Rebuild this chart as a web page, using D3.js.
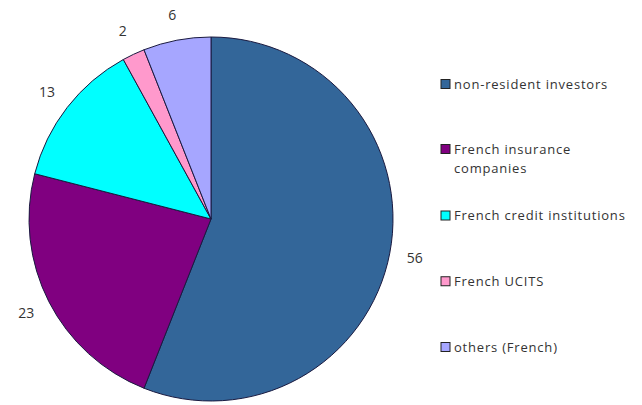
<!doctype html>
<html>
  <head>
    <meta charset="utf-8"/>
    <title>Holders of French government debt</title>
    <style>
      body, html {
        padding: 0;
        margin: 0;
        border: 0;
        background: #fff;
      }
      .value-label {
        font-family: "Open Sans", "Liberation Sans", sans-serif;
        font-size: 14px;
        fill: #333;
      }
      .legend-label {
        font-family: "Open Sans", "Liberation Sans", sans-serif;
        font-size: 13px;
        letter-spacing: 0.8px;
        fill: #333;
      }
    </style>
    <script src="https://d3js.org/d3.v7.min.js"></script>
  </head>
  <body>
    <svg id="chart" width="642" height="405"></svg>

    <script>
      // shares of holders, in %
      var categories = ["non-resident investors", "French insurance companies", "French credit institutions", "French UCITS", "others (French)"];
      var values = [56, 23, 13, 2, 6];
      var colors = ["#336699", "#800080", "#00FFFF", "#FF99CC", "#A6A6FF"];
      // legend text split as in the original
      var legendLines = [["non-resident investors"], ["French insurance", "companies"], ["French credit institutions"], ["French UCITS"], ["others (French)"]];

      var cx = 211, cy = 219,
          r = 182;

      var svg = d3.select("#chart");

      var pie = d3.pie().sort(null).value(function(d) { return d; });
      var arcs = pie(values);

      var arc = d3.arc().innerRadius(0).outerRadius(r);
      var labelArc = d3.arc().innerRadius(r * 1.14).outerRadius(r * 1.14);

      var g = svg.append("g")
        .attr("transform", "translate(" + cx + "," + cy + ")");

      g.selectAll("path")
        .data(arcs)
        .enter().append("path")
          .attr("d", arc)
          .attr("fill", function(d, i) { return colors[i]; })
          .attr("stroke", "#1a1a40")
          .attr("stroke-width", 1);

      g.selectAll(".value-label")
        .data(arcs)
        .enter().append("text")
          .attr("class", "value-label")
          .attr("text-anchor", "middle")
          .attr("dy", "0.35em")
          .attr("x", function(d) { return labelArc.centroid(d)[0]; })
          .attr("y", function(d) { return labelArc.centroid(d)[1]; })
          .text(function(d) { return d.value; });

      var legendY = d3.scalePoint()
        .domain(categories)
        .range([84, 347]);

      var legend = svg.selectAll(".legend")
        .data(categories)
        .enter().append("g")
          .attr("class", "legend")
          .attr("transform", function(d) {
            var y = legendY(d);
            if (d === "French insurance companies") y = 149;
            return "translate(441," + y + ")";
          });

      legend.append("rect")
        .attr("x", 0)
        .attr("y", -4.5)
        .attr("width", 9)
        .attr("height", 9)
        .attr("fill", function(d, i) { return colors[i]; })
        .attr("stroke", "#222")
        .attr("stroke-width", 1);

      legend.append("text")
        .attr("class", "legend-label")
        .selectAll("tspan")
        .data(function(d, i) { return legendLines[i]; })
        .enter().append("tspan")
          .attr("x", 13)
          .attr("dy", function(d, j) { return j === 0 ? "0.35em" : "1.5em"; })
          .text(function(d) { return d; });
    </script>
  </body>
</html>
